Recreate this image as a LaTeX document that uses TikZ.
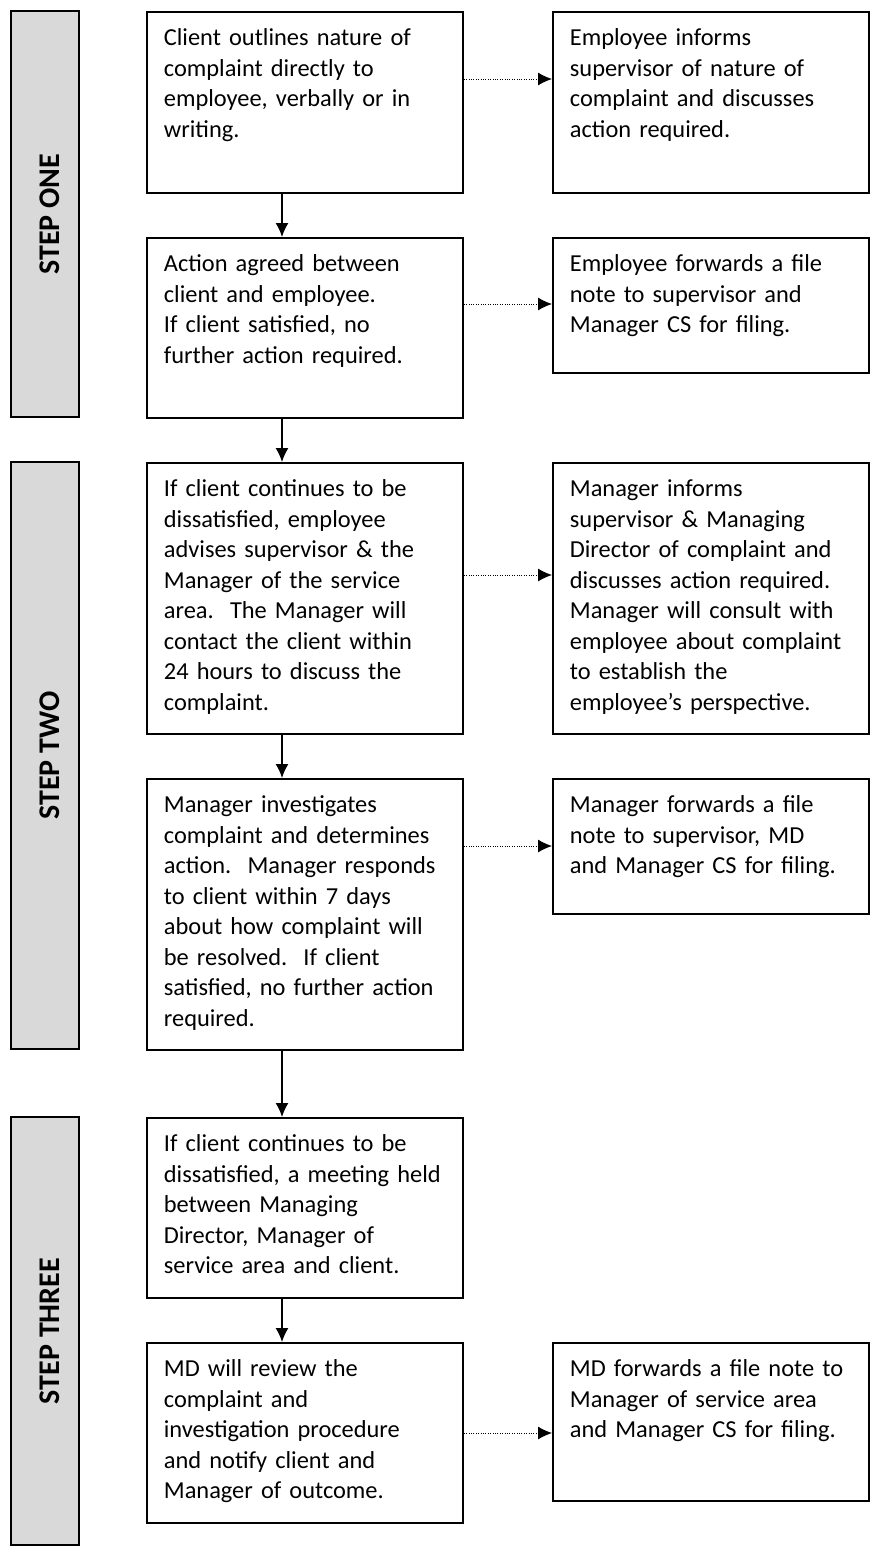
\documentclass[tikz,border=0pt]{standalone}
\usepackage{fontspec}
\setmainfont{Carlito}
\usetikzlibrary{arrows.meta}

\definecolor{bargray}{HTML}{D9D9D9}

\tikzset{
  procbox/.style={draw, line width=0.9pt, anchor=north west, align=left,
    text width=141pt, inner xsep=8.5pt, inner ysep=0pt, text height=17pt,
    font=\fontsize{12.2pt}{15.25pt}\selectfont\frenchspacing},
  stepbar/.style={draw, line width=0.9pt, fill=bargray, minimum width=34.2pt, inner sep=0pt},
  steplabel/.style={rotate=90, inner sep=0pt, font=\fontsize{15pt}{18pt}\selectfont\bfseries},
  flowarrow/.style={line width=0.7pt, -{Latex[length=7pt,width=6.5pt]}},
  notearrow/.style={line width=0.5pt, dash pattern=on 0.5pt off 0.7pt, -{Latex[length=7pt,width=6.5pt]}}
}

\begin{document}
\begin{tikzpicture}[x=0.5pt, y=-0.5pt]
  \useasboundingbox (0,0) rectangle (875,1548);
  %steps
  \node[stepbar, minimum height=203pt] (bar1) at (44.85,214) {};
  \node[stepbar, minimum height=293.5pt] (bar2) at (44.85,755.5) {};
  \node[stepbar, minimum height=214pt] (bar3) at (44.85,1331) {};
  \node[steplabel] (lab1) at ([xshift=2.4pt]bar1.center) {STEP ONE};
  \node[steplabel] (lab2) at ([xshift=2.4pt]bar2.center) {STEP TWO};
  \node[steplabel] (lab3) at ([xshift=2.4pt]bar3.center) {STEP THREE};

  %main column
  \node[procbox, text depth=73.5pt] (A) at (146,11)
    {Client outlines nature of\\complaint directly to\\employee, verbally or in\\writing.};
  \node[procbox, text depth=73pt] (B) at (146,237)
    {Action agreed between\\client and employee.\\If client satisfied, no\\further action required.};
  \node[procbox, text depth=118.5pt] (C) at (146,462)
    {If client continues to be\\dissatisfied, employee\\advises supervisor \& the\\Manager of the service\\area.~ The Manager will\\contact the client within\\24 hours to discuss the\\complaint.};
  \node[procbox, text depth=118.5pt] (D) at (146,778)
    {Manager investigates\\complaint and determines\\action.~ Manager responds\\to client within 7 days\\about how complaint will\\be resolved.~ If client\\satisfied, no further action\\required.};
  \node[procbox, text depth=73pt] (E) at (146,1117)
    {If client continues to be\\dissatisfied, a meeting held\\between Managing\\Director, Manager of\\service area and client.};
  \node[procbox, text depth=73pt] (F) at (146,1342)
    {MD will review the\\complaint and\\investigation procedure\\and notify client and\\Manager of outcome.};

  %notes
  \node[procbox, text depth=73.5pt] (A2) at (552,11)
    {Employee informs\\supervisor of nature of\\complaint and discusses\\action required.};
  \node[procbox, text depth=50.5pt] (B2) at (552,237)
    {Employee forwards a file\\note to supervisor and\\Manager CS for filing.};
  \node[procbox, text depth=118.5pt] (C2) at (552,462)
    {Manager informs\\supervisor \& Managing\\Director of complaint and\\discusses action required.\\Manager will consult with\\employee about complaint\\to establish the\\employee's perspective.};
  \node[procbox, text depth=50.5pt] (D2) at (552,778)
    {Manager forwards a file\\note to supervisor, MD\\and Manager CS for filing.};
  \node[procbox, text depth=62pt] (F2) at (552,1342)
    {MD forwards a file note to\\Manager of service area\\and Manager CS for filing.};

  \coordinate (spine) at (282,0);
  \coordinate (r1) at (0,79);
  \coordinate (r2) at (0,304);
  \coordinate (r3) at (0,575);
  \coordinate (r4) at (0,846);
  \coordinate (r5) at (0,1433);

  \foreach \s/\t in {A/B, B/C, C/D, D/E, E/F}
    \draw[flowarrow] (\s.south -| spine) -- (\t.north -| spine);
  \foreach \s/\t/\r in {A/A2/r1, B/B2/r2, C/C2/r3, D/D2/r4, F/F2/r5}
    \draw[notearrow] (\s.east |- \r) -- (\t.west |- \r);
\end{tikzpicture}
\end{document}
